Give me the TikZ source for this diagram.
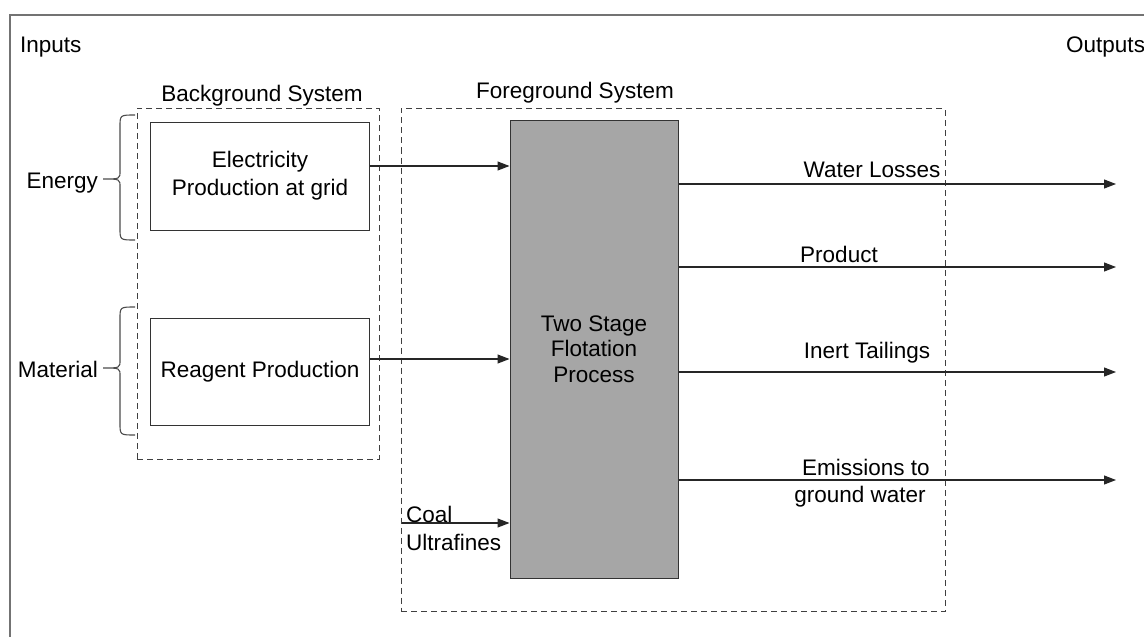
\documentclass[tikz,border=0pt]{standalone}
\usepackage{fontspec}
\setmainfont{Liberation Sans}
\usetikzlibrary{arrows.meta}
\definecolor{flotgray}{HTML}{A6A6A6}

\begin{document}
\begin{tikzpicture}[x=1pt,y=-1pt,
  every node/.style={font=\fontsize{22.5}{27}\selectfont, inner sep=0pt},
  box/.style={draw=black!80, line width=1pt, align=center},
  sysbox/.style={draw=black!75, dash pattern=on 6pt off 4pt, line width=1pt},
  flow/.style={black!85, line width=1.1pt, -{Triangle[length=12pt,width=9pt]}}]
\useasboundingbox (0,0) rectangle (1144,637);
% frame
\draw[black!55, line width=1.4pt] (10,637) -- (10,15) -- (1144,15);
\node[anchor=base west] (inputs) at (20,52) {Inputs};
\node[anchor=base west] (outputs) at (1066,52) {Outputs};
% background system
\node[sysbox, minimum width=242, minimum height=351] (bgsys) at (258,283.5) {};
\node[anchor=base] (bglabel) at (262,101) {Background System};
\node[box, minimum width=219, minimum height=108] (elec) at (260,176) {Electricity\\[1pt]Production at grid};
\node[box, minimum width=219, minimum height=107] (reag) at (260,371.5) {Reagent Production};
% braces
\draw[black!70, line width=1.1pt] (135,115) .. controls (120,115) .. (120,127) -- (120,171)
  .. controls (120,179) .. (103,179) .. controls (120,179) .. (120,187) -- (120,228)
  .. controls (120,240) .. (135,240);
\draw[black!70, line width=1.1pt] (135,307) .. controls (120,307) .. (120,319) -- (120,360)
  .. controls (120,368) .. (103,368) .. controls (120,368) .. (120,376) -- (120,423)
  .. controls (120,435) .. (135,435);
\node[anchor=base east] (energy) at (98,188) {Energy};
\node[anchor=base east] (material) at (98,377) {Material};
% foreground system
\node[sysbox, minimum width=544, minimum height=503] (fgsys) at (673,360) {};
\node[anchor=base] (fglabel) at (575,98) {Foreground System};
\node[box, fill=flotgray, minimum width=168, minimum height=458,
  font=\fontsize{22.5}{25.5}\selectfont] (flot) at (594,349) {Two Stage\\Flotation\\Process};
% inputs to process
\coordinate (elecout) at ([yshift=10pt]elec.east);
\coordinate (reagout) at ([yshift=12.5pt]reag.east);
\draw[flow] (elecout) -- (elecout -| flot.west);
\draw[flow] (reagout) -- (reagout -| flot.west);
\coordinate (coal) at (402,523);
\draw[flow] (coal) -- (coal -| flot.west);
\node[anchor=base west] (coallabel) at (406,522) {Coal};
\node[anchor=base west] (ultralabel) at (406,550) {Ultrafines};
% outputs
\coordinate (out1) at (1116,184);
\coordinate (out2) at (1116,267);
\coordinate (out3) at (1116,372);
\coordinate (out4) at (1116,480);
\draw[flow] (flot.east |- out1) -- (out1);
\draw[flow] (flot.east |- out2) -- (out2);
\draw[flow] (flot.east |- out3) -- (out3);
\draw[flow] (flot.east |- out4) -- (out4);
\node[anchor=base] (water) at (872,177) {Water Losses};
\node[anchor=base] (product) at (839,262) {Product};
\node[anchor=base] (tailings) at (867,358) {Inert Tailings};
\node[anchor=base] (emis1) at (866,475) {Emissions to};
\node[anchor=base] (emis2) at (860,502) {ground water};
\end{tikzpicture}
\end{document}
